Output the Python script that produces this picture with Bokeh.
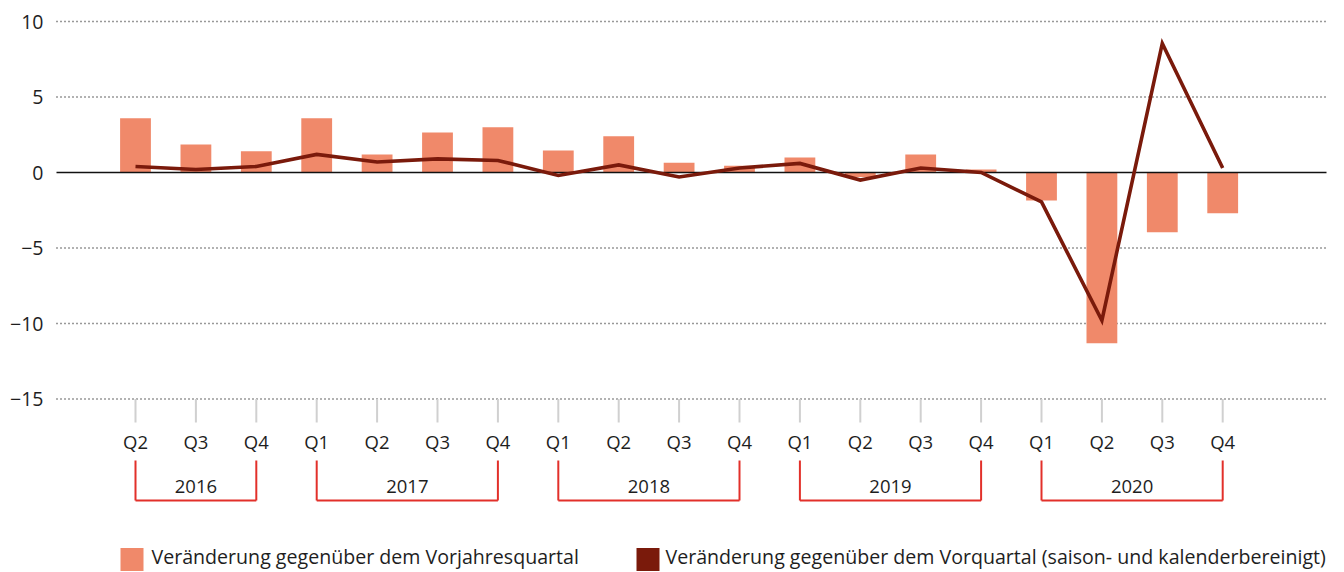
from bokeh.plotting import figure
from bokeh.models import Range1d, ColumnDataSource, LinearAxis, FixedTicker
from bokeh.core.properties import value
from bokeh.embed import file_html
from bokeh.resources import INLINE

# ---- data ----
years = ["2016", "2017", "2018", "2019", "2020"]
quarters = ["Q2", "Q3", "Q4",
            "Q1", "Q2", "Q3", "Q4",
            "Q1", "Q2", "Q3", "Q4",
            "Q1", "Q2", "Q3", "Q4",
            "Q1", "Q2", "Q3", "Q4"]
quarter_year = ["2016"] * 3 + ["2017"] * 4 + ["2018"] * 4 + ["2019"] * 4 + ["2020"] * 4
yoy = [3.6, 1.85, 1.4,
       3.6, 1.2, 2.65, 3.0,
       1.45, 2.4, 0.65, 0.45,
       1.0, -0.3, 1.2, 0.2,
       -1.85, -11.3, -3.95, -2.7]
qoq = [0.4, 0.2, 0.4,
       1.2, 0.7, 0.9, 0.8,
       -0.2, 0.5, -0.3, 0.3,
       0.6, -0.5, 0.3, 0.0,
       -1.95, -9.8, 8.55, 0.3]
y_ticks = [-15, -10, -5, 0, 5, 10]
legend_labels = ["Veränderung gegenüber dem Vorjahresquartal",
                 "Veränderung gegenüber dem Vorquartal (saison- und kalenderbereinigt)"]

BAR = "#F0896A"
LINE = "#7A1A0B"
RED = "#E2302A"
GREY = "#D0D0D0"
FONT = "Open Sans"
TXT = "#1E1E1E"

W, H = 1344, 572
LEFT = 55
# pixel geometry helpers (reference layout)
PX_PER_Q = 60.4
X0_PX = 135.0          # pixel of first quarter
Y0_PX = 172.0          # pixel of value 0
PX_PER_UNIT = 15.1

def xv(px):
    return (px - X0_PX) / PX_PER_Q

def yv(py):
    return (Y0_PX - py) / PX_PER_UNIT

p = figure(width=W, height=H, output_backend="svg", toolbar_location=None,
           x_range=Range1d(xv(LEFT), xv(W)), y_range=Range1d(yv(H), yv(0)),
           min_border_left=LEFT, min_border_right=0, min_border_top=0,
           min_border_bottom=0, x_axis_location=None, y_axis_location=None)
p.outline_line_color = None
p.xgrid.visible = False
p.ygrid.visible = False
p.background_fill_color = "white"
p.border_fill_color = "white"

# y axis
yax = LinearAxis(ticker=FixedTicker(ticks=y_ticks))
yax.axis_line_color = None
yax.major_tick_line_color = None
yax.minor_tick_line_color = None
yax.major_tick_out = 0
yax.major_tick_in = 0
yax.major_label_text_font = FONT
yax.major_label_text_font_size = "19.5px"
yax.major_label_text_color = TXT
yax.major_label_standoff = 12
yax.major_label_overrides = {t: (str(t).replace("-", "\u2212")) for t in y_ticks}
p.add_layout(yax, "left")

xs = list(range(len(quarters)))
grid_left = xv(56)
grid_right = xv(1326)

# dotted gridlines (not at 0)
gy = [t for t in y_ticks if t != 0]
p.segment(x0=[grid_left] * len(gy), x1=[grid_right] * len(gy), y0=gy, y1=gy,
          line_color="#333333", line_width=1.6, line_dash="1 3")

# bars
src = ColumnDataSource(dict(x=xs, yoy=yoy, qoq=qoq))
p.vbar(x="x", top="yoy", bottom=0, width=0.51, source=src,
       fill_color=BAR, line_color=None)

# zero line
p.segment(x0=[grid_left], x1=[grid_right], y0=[0], y1=[0],
          line_color="#111111", line_width=1.5)

# qoq line
p.line(x="x", y="qoq", source=src, line_color=LINE, line_width=3.6,
       line_join="miter")

# quarter tick marks
tick_top = y_ticks[0]
tick_bot = yv(422)
p.segment(x0=xs, x1=xs, y0=[tick_top] * len(xs), y1=[tick_bot] * len(xs),
          line_color=GREY, line_width=2)

# quarter labels
p.text(x=xs, y=[yv(441)] * len(xs), text=quarters, text_align="center",
       text_baseline="middle", text_font=value(FONT), text_font_size="18.5px",
       text_color=TXT)

# year brackets
bx0, bx1 = [], []
ycenters, ylabels = [], []
for yr in years:
    idx = [i for i, q in enumerate(quarter_year) if q == yr]
    a, b = idx[0], idx[-1]
    bx0.append(a); bx1.append(b)
    ycenters.append((a + b) / 2)
    ylabels.append(yr)
yt, yb = yv(460), yv(500)
p.segment(x0=bx0 + bx1 + bx0, x1=bx0 + bx1 + bx1,
          y0=[yt] * len(bx0) + [yt] * len(bx1) + [yb] * len(bx0),
          y1=[yb] * len(bx0) + [yb] * len(bx1) + [yb] * len(bx0),
          line_color=RED, line_width=2)
p.text(x=ycenters, y=[yv(486)] * len(ycenters), text=ylabels, text_align="center",
       text_baseline="middle", text_font=value(FONT), text_font_size="18.5px",
       text_color=TXT)

# legend
p.rect(x=[xv(131.5), xv(647.5)], y=[yv(559), yv(559)], width=23, height=23,
       width_units="screen", height_units="screen",
       fill_color=[BAR, LINE], line_color=None)
p.text(x=[xv(151), xv(665)], y=[yv(556), yv(556)], text=legend_labels,
       text_align="left", text_baseline="middle", text_font=value(FONT),
       text_font_size="19.6px", text_color=TXT)

open("out.html", "w").write(file_html(p, INLINE))
